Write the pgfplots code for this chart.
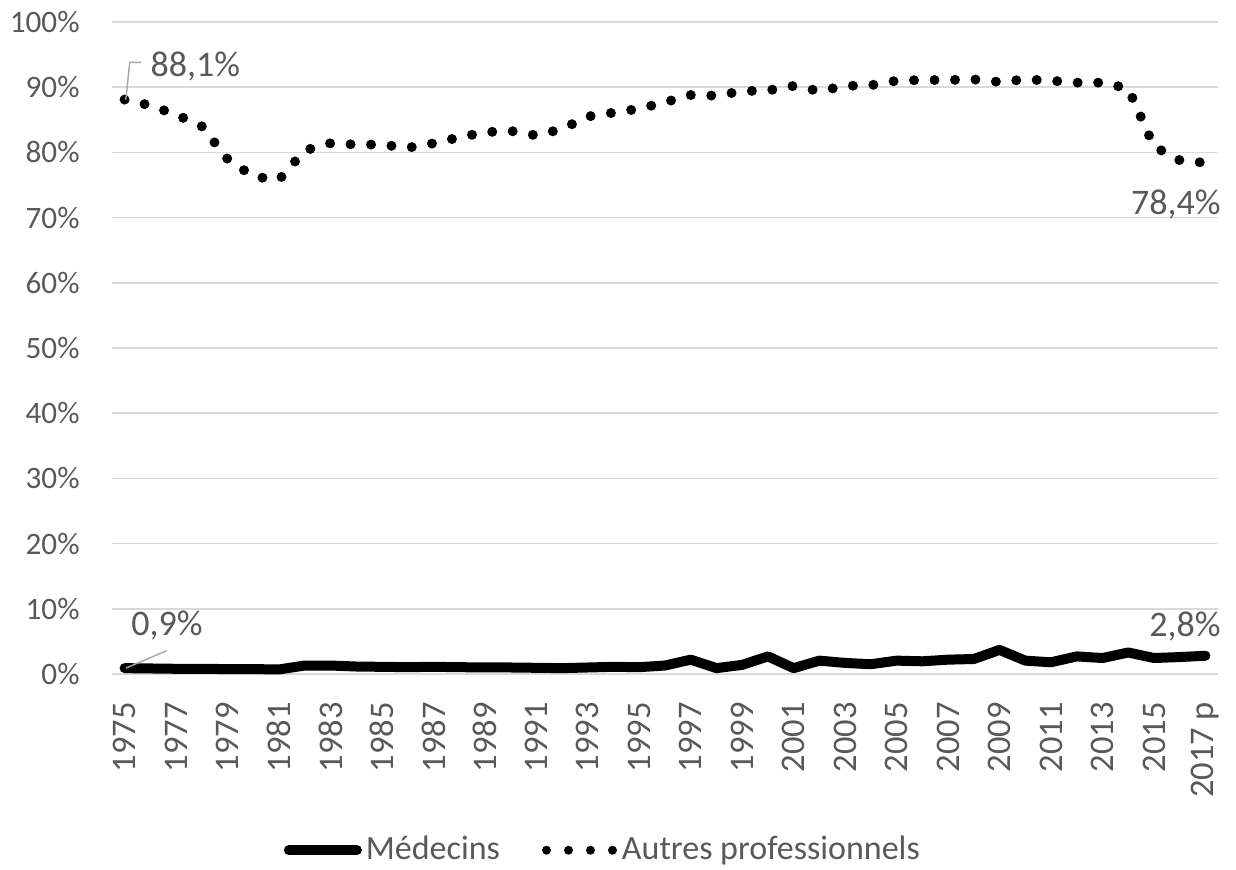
\documentclass[border=0pt]{standalone}
\usepackage{pgfplots}
\pgfplotsset{compat=1.18}
\usepackage{fontspec}
\setmainfont{Carlito}
\definecolor{txt}{HTML}{595959}
\definecolor{grd}{HTML}{D9D9D9}
\definecolor{lead}{HTML}{A6A6A6}
\begin{document}
\fontsize{17.5}{21}\selectfont
\begin{tikzpicture}
\useasboundingbox (-55.85pt,-97.5pt) rectangle (562.15pt,337pt);
\begin{axis}[
  at={(0,0)}, anchor=south west,
  scale only axis, width=553.3pt, height=326pt,
  xmin=1974.5, xmax=2017.5, ymin=0, ymax=100,
  axis line style={draw=none}, tick style={draw=none}, major tick length=0pt,
  ymajorgrids, grid style={grd, line width=0.75pt},
  ytick={0,10,...,100},
  yticklabels={0\%,10\%,20\%,30\%,40\%,50\%,60\%,70\%,80\%,90\%,100\%},
  xtick={1975,1977,...,2017},
  xticklabels={1975,1977,1979,1981,1983,1985,1987,1989,1991,1993,1995,1997,1999,2001,2003,2005,2007,2009,2011,2013,2015,2017 p},
  /pgf/number format/assume math mode=true,
  tick label style={text=txt},
  xticklabel style={rotate=90, anchor=east, inner sep=0pt, font=\fontsize{17.25}{20}\selectfont},
  xticklabel shift=13.85pt,
  yticklabel style={anchor=east, inner sep=0pt, font=\fontsize{15.6}{19}\selectfont},
  yticklabel shift=15.85pt,
  clip=false,
  legend style={at={(0.1556,-0.2703)}, anchor=west, draw=none, fill=none, text=txt,
    inner sep=0pt, outer sep=0pt, font=\fontsize{17}{20}\selectfont,
    nodes={inner sep=0pt},
    /tikz/every odd column/.append style={column sep=2pt},
    /tikz/every even column/.append style={column sep=21pt}},
  legend columns=2,
  legend cell align=left,
]
\addplot[black, line width=5pt, line cap=round, line join=round,
  legend image code/.code={\draw[black, line width=5pt, line cap=round] (2.5pt,0pt) -- (36.5pt,0pt);}]
  table[row sep=\\] {
x y\\
1975 0.9\\ 1976 0.85\\ 1977 0.8\\ 1978 0.8\\ 1979 0.75\\ 1980 0.75\\ 1981 0.7\\
1982 1.3\\ 1983 1.3\\ 1984 1.15\\ 1985 1.1\\ 1986 1.05\\ 1987 1.1\\ 1988 1.05\\
1989 1.0\\ 1990 1.0\\ 1991 0.95\\ 1992 0.9\\ 1993 1.0\\ 1994 1.1\\ 1995 1.05\\
1996 1.3\\ 1997 2.2\\ 1998 0.9\\ 1999 1.4\\ 2000 2.7\\ 2001 0.9\\ 2002 2.05\\
2003 1.7\\ 2004 1.5\\ 2005 2.05\\ 2006 1.95\\ 2007 2.2\\ 2008 2.3\\ 2009 3.7\\
2010 2.05\\ 2011 1.8\\ 2012 2.7\\ 2013 2.45\\ 2014 3.3\\ 2015 2.45\\ 2016 2.6\\
2017 2.8\\
};
\addlegendentry{Médecins}
\addplot[black, line width=5pt, line cap=round, line join=round, dash pattern=on 0pt off 10.25pt,
  legend image code/.code={\draw[black, line width=4.5pt, line cap=round, dash pattern=on 0pt off 11pt] (2.5pt,0pt) -- (36pt,0pt);}]
  table[row sep=\\] {
x y\\
1975 88.1\\ 1976 87.2\\ 1977 85.8\\ 1978 84.0\\ 1979 79.0\\ 1980 76.3\\ 1981 75.8\\
1982 80.3\\ 1983 81.4\\ 1984 81.2\\ 1985 81.2\\ 1986 80.7\\ 1987 81.4\\ 1988 82.3\\
1989 83.1\\ 1990 83.3\\ 1991 82.6\\ 1992 83.6\\ 1993 85.5\\ 1994 86.1\\ 1995 86.7\\
1996 87.7\\ 1997 88.8\\ 1998 88.7\\ 1999 89.4\\ 2000 89.5\\ 2001 90.2\\ 2002 89.4\\
2003 90.2\\ 2004 90.3\\ 2005 91.0\\ 2006 91.1\\ 2007 91.1\\ 2008 91.2\\ 2009 90.8\\
2010 91.2\\ 2011 91.0\\ 2012 90.7\\ 2013 90.7\\ 2014 89.8\\ 2015 80.9\\ 2016 78.8\\
2017 78.4\\
};
\addlegendentry{Autres professionnels}
\draw[lead, line width=0.7pt] (axis cs:1975.05,88.1) -- (axis cs:1975.2,93.8) -- (axis cs:1975.65,93.8);
\draw[lead, line width=0.7pt] (axis cs:1975.05,0.9) -- (axis cs:1976.65,3.6);
\begin{scope}[font=\fontsize{18}{21}\selectfont]
\node[anchor=base west, text=txt, inner sep=0pt] at (axis cs:1976.0,91.7) {88,1\%};
\node[anchor=base east, text=txt, inner sep=0pt] at (axis cs:2017.6,70.4) {78,4\%};
\node[anchor=base west, text=txt, inner sep=0pt] at (axis cs:1975.25,5.9) {0,9\%};
\node[anchor=base east, text=txt, inner sep=0pt] at (axis cs:2017.6,5.8) {2,8\%};
\end{scope}
\end{axis}
\end{tikzpicture}
\end{document}
